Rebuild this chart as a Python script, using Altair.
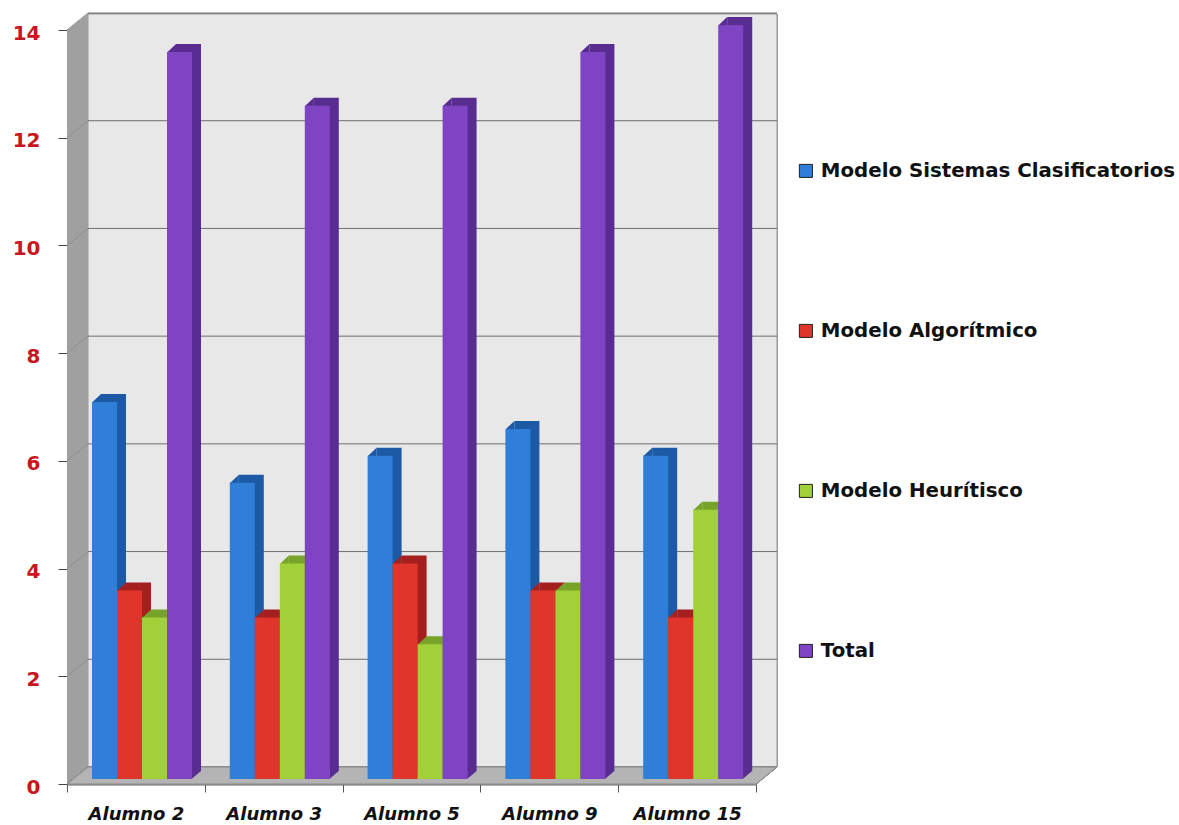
import altair as alt
import pandas as pd

# Puntuaciones por alumno y modelo
alumnos = ["Alumno 2", "Alumno 3", "Alumno 5", "Alumno 9", "Alumno 15"]
series = [
    "Modelo Sistemas Clasificatorios",
    "Modelo Algorítmico",
    "Modelo Heurítisco",
    "Total",
]
sistemas = [7, 5.5, 6, 6.5, 6]
algoritmico = [3.5, 3, 4, 3.5, 3]
heuristico = [3, 4, 2.5, 3.5, 5]
total = [13.5, 12.5, 12.5, 13.5, 14]
y_ticks = [0, 2, 4, 6, 8, 10, 12, 14]

face_colors = ["#2f7ed8", "#e0352b", "#a2d039", "#7f44c4"]
side_colors = ["#1d5aa6", "#a51f1f", "#77a329", "#582c90"]

rows = []
for serie, vals in zip(series, [sistemas, algoritmico, heuristico, total]):
    for alumno, v in zip(alumnos, vals):
        rows.append({"alumno": alumno, "serie": serie, "valor": v})
df = pd.DataFrame(rows)
grid_df = pd.DataFrame({"v": y_ticks[1:]})

W, H = 689, 754      # plot area
DX, DY = 21, 17      # depth of the walls
BX, BY = 9, 8        # depth of each bar
BAR_W = 25           # front face width
FRONT_LIFT = 5       # bars stand a little behind the front edge
STEP = W / len(alumnos)
GROUP_LEFT = 25      # gap between a category's left edge and its first bar

FONT = "DejaVu Sans"
y_scale = alt.Scale(domain=[0, 14], nice=False, zero=True)
x_scale = alt.Scale(paddingInner=0, paddingOuter=0)
x_axis = alt.Axis(
    title=None, labelAngle=0, tickBand="extent", tickSize=8, tickColor="#555555",
    domainColor="#666666", domainWidth=2, labelFont=FONT, labelFontStyle="italic",
    labelFontWeight="bold", labelFontSize=18, labelColor="#111111", labelPadding=13,
)
y_axis = alt.Axis(
    values=y_ticks, title=None, grid=False, labelColor="#c8161d", labelFont=FONT,
    labelFontWeight="bold", labelFontSize=20, tickColor="#444444", tickSize=9,
    domainColor="#8c8c8c", labelPadding=18, labelOffset=3,
)
x_enc = alt.X("alumno:N", sort=alumnos, scale=x_scale, axis=x_axis)
y_val = alt.Y("valor:Q", scale=y_scale, axis=y_axis)
y_grid = alt.Y("v:Q", scale=y_scale, axis=y_axis)


def shape_mark(path, **kw):
    """A filled polygon drawn as a point symbol; size 4 keeps path units in pixels."""
    return dict(shape=path, size=4, filled=True, opacity=1, **kw)


# --- 3-D box: back wall, gridlines, left wall, floor ---
back_wall = alt.Chart(grid_df).mark_point(
    **shape_mark(f"M{DX},{-DY + 1}L{W + DX},{-DY + 1}L{W + DX},{H - DY}L{DX},{H - DY}Z",
                 color="#e8e8e8", stroke="#9a9a9a", strokeWidth=1)
).encode(x=alt.value(0), y=alt.value(0))
back_grid = alt.Chart(grid_df).mark_point(
    shape=f"M{DX},{-DY}L{W + DX},{-DY}", size=4, filled=False, opacity=1,
    color="#6e6e6e", strokeWidth=1,
).encode(x=alt.value(0), y=y_grid)
left_wall = alt.Chart(grid_df).mark_point(
    **shape_mark(f"M0,0L{DX},{-DY}L{DX},{-H - DY + 1}L0,{-H + 1}Z",
                 color="#a0a0a0", strokeWidth=0)
).encode(x=alt.value(0), y=alt.value(H))
left_grid = alt.Chart(grid_df).mark_point(
    shape=f"M0,0L{DX},{-DY}", size=4, filled=False, opacity=1,
    color="#8e8e8e", strokeWidth=1,
).encode(x=alt.value(0), y=y_grid)
floor = alt.Chart(grid_df).mark_point(
    **shape_mark(f"M0,0L{DX},{-DY}L{W + DX},{-DY}L{W},0Z",
                 color="#b4b4b4", stroke="#8a8a8a", strokeWidth=1)
).encode(x=alt.value(0), y=alt.value(H))

# --- bars, one layer set per series; dark side/top first, then wedges, then faces ---
sides, bottoms, tops, fronts = [], [], [], []
half = BAR_W / 2
legend = alt.Legend(
    title=None, orient="none", legendX=729, legendY=131, symbolType="square",
    symbolSize=170, symbolStrokeColor="#222222", symbolStrokeWidth=1,
    labelFont=FONT, labelFontWeight="bold", labelFontSize=19.8,
    labelColor="#111111", labelOffset=5, rowPadding=139, labelLimit=420,
)
for i, (serie, face, side) in enumerate(zip(series, face_colors, side_colors)):
    off = GROUP_LEFT + half + BAR_W * i - STEP / 2
    base = alt.Chart(df).transform_filter(alt.datum.serie == serie)
    sides.append(
        base.mark_bar(width=BAR_W, xOffset=off + BX, yOffset=-FRONT_LIFT - BY, color=side)
        .encode(x=x_enc, y=y_val)
    )
    tops.append(
        base.mark_point(
            **shape_mark(f"M{-half},0.5L{-half + BX},{-BY}L{-half + BX},0.5Z",
                         strokeWidth=0, color=side, xOffset=off, yOffset=-FRONT_LIFT)
        ).encode(x=x_enc, y=y_val)
    )
    bottoms.append(
        base.transform_calculate(base0="0").mark_point(
            **shape_mark(f"M{half - 0.5},0L{half - 0.5},{-BY}L{half + BX},{-BY}Z",
                         strokeWidth=0, color=side, xOffset=off, yOffset=-FRONT_LIFT)
        ).encode(x=x_enc, y=alt.Y("base0:Q", scale=y_scale, axis=y_axis))
    )
    fronts.append(
        base.mark_bar(width=BAR_W, xOffset=off, yOffset=-FRONT_LIFT).encode(
            x=x_enc,
            y=y_val,
            color=alt.Color(
                "serie:N", sort=series, scale=alt.Scale(domain=series, range=face_colors),
                legend=legend,
            ),
        )
    )

chart = (
    alt.layer(back_wall, back_grid, left_wall, left_grid, floor,
              *sides, *bottoms, *tops, *fronts)
    .properties(
        width=W, height=H,
        padding={"left": 67, "top": 30, "right": 1179 - 67 - W, "bottom": 825 - 30 - H},
        autosize=alt.AutoSizeParams(type="none"),
        background="white",
    )
    .configure_view(stroke=None)
)

chart.save("out.html", embed_options={"renderer": "svg", "actions": False})
